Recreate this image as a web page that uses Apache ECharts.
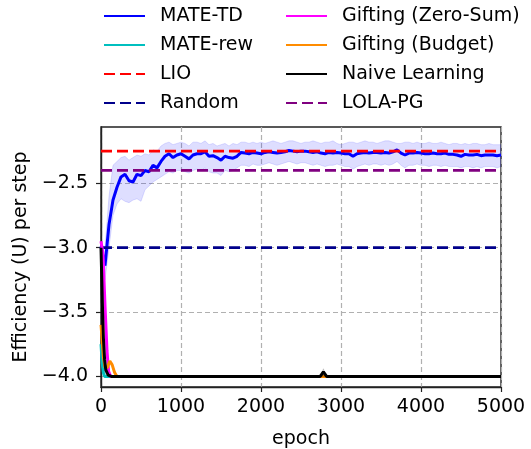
<!DOCTYPE html>
<html>
<head>
<meta charset="utf-8">
<script src="https://cdn.jsdelivr.net/npm/echarts@6/dist/echarts.min.js"></script>
<style>
  html, body { margin: 0; padding: 0; background: #fff; }
  #chart { width: 531px; height: 449px; }
</style>
</head>
<body>
<div id="chart"></div>
<script>
// Training epochs at which MATE-TD was evaluated
const epochs = [
  0, 50, 100, 150, 200, 250, 300, 350, 400, 450,
  500, 550, 600, 650, 700, 750, 800, 850, 900, 950,
  1000, 1050, 1100, 1150, 1200, 1250, 1300, 1350, 1400, 1450,
  1500, 1550, 1600, 1650, 1700, 1750, 1800, 1850, 1900, 1950,
  2000, 2050, 2100, 2150, 2200, 2250, 2300, 2350, 2400, 2450,
  2500, 2550, 2600, 2650, 2700, 2750, 2800, 2850, 2900, 2950,
  3000, 3050, 3100, 3150, 3200, 3250, 3300, 3350, 3400, 3450,
  3500, 3550, 3600, 3650, 3700, 3750, 3800, 3850, 3900, 3950,
  4000, 4050, 4100, 4150, 4200, 4250, 4300, 4350, 4400, 4450,
  4500, 4550, 4600, 4650, 4700, 4750, 4800, 4850, 4900, 4950,
  5000
];
// MATE-TD mean efficiency
const mateTdMean = [
  -2.99, -3.14, -2.82, -2.63, -2.53, -2.45, -2.43, -2.48, -2.49, -2.43,
  -2.44, -2.40, -2.41, -2.36, -2.38, -2.33, -2.29, -2.27, -2.30, -2.28,
  -2.27, -2.29, -2.31, -2.28, -2.27, -2.27, -2.255, -2.29, -2.285, -2.30,
  -2.32, -2.29, -2.30, -2.305, -2.29, -2.26, -2.265, -2.27, -2.26, -2.265,
  -2.27, -2.26, -2.255, -2.26, -2.265, -2.26, -2.255, -2.245, -2.25, -2.255,
  -2.25, -2.25, -2.255, -2.26, -2.255, -2.265, -2.27, -2.26, -2.265, -2.26,
  -2.265, -2.27, -2.27, -2.29, -2.27, -2.265, -2.26, -2.265, -2.26, -2.26,
  -2.265, -2.26, -2.265, -2.255, -2.24, -2.265, -2.28, -2.265, -2.265, -2.26,
  -2.265, -2.27, -2.27, -2.265, -2.27, -2.27, -2.265, -2.275, -2.275, -2.28,
  -2.29, -2.275, -2.28, -2.28, -2.275, -2.285, -2.28, -2.28, -2.28, -2.285,
  -2.28
];
// MATE-TD spread (upper / lower edge of the shaded region)
const mateTdUpper = [
  -2.97, -3.00, -2.60, -2.36, -2.33, -2.30, -2.29, -2.32, -2.30, -2.28,
  -2.29, -2.27, -2.28, -2.24, -2.25, -2.21, -2.19, -2.18, -2.20, -2.19,
  -2.18, -2.19, -2.21, -2.18, -2.18, -2.19, -2.17, -2.20, -2.19, -2.21,
  -2.20, -2.19, -2.21, -2.19, -2.20, -2.18, -2.18, -2.19, -2.18, -2.19,
  -2.18, -2.19, -2.18, -2.17, -2.18, -2.19, -2.18, -2.17, -2.17, -2.18,
  -2.19, -2.18, -2.18, -2.17, -2.18, -2.19, -2.18, -2.18, -2.17, -2.19,
  -2.20, -2.19, -2.18, -2.18, -2.19, -2.18, -2.17, -2.18, -2.18, -2.19,
  -2.18, -2.17, -2.17, -2.18, -2.19, -2.19, -2.18, -2.18, -2.19, -2.18,
  -2.19, -2.19, -2.18, -2.19, -2.19, -2.18, -2.19, -2.20, -2.19, -2.19,
  -2.20, -2.19, -2.20, -2.19, -2.19, -2.20, -2.20, -2.19, -2.20, -2.20,
  -2.20
];
const mateTdLower = [
  -3.01, -3.25, -3.00, -2.75, -2.66, -2.62, -2.64, -2.65, -2.63, -2.62,
  -2.64, -2.55, -2.52, -2.49, -2.47, -2.45, -2.43, -2.41, -2.42, -2.40,
  -2.40, -2.41, -2.42, -2.40, -2.39, -2.40, -2.38, -2.41, -2.42, -2.42,
  -2.44, -2.40, -2.41, -2.40, -2.38, -2.36, -2.36, -2.37, -2.35, -2.36,
  -2.36, -2.35, -2.34, -2.35, -2.36, -2.35, -2.34, -2.33, -2.34, -2.35,
  -2.34, -2.34, -2.35, -2.36, -2.35, -2.36, -2.37, -2.36, -2.36, -2.35,
  -2.36, -2.37, -2.37, -2.39, -2.37, -2.36, -2.35, -2.36, -2.35, -2.35,
  -2.36, -2.35, -2.36, -2.35, -2.33, -2.36, -2.38, -2.36, -2.36, -2.35,
  -2.36, -2.36, -2.37, -2.36, -2.36, -2.37, -2.36, -2.37, -2.37, -2.37,
  -2.38, -2.37, -2.37, -2.38, -2.37, -2.38, -2.37, -2.37, -2.37, -2.38,
  -2.37
];

// Baselines that collapse quickly to the lowest efficiency
const mateRewEpochs = [0, 15, 30, 45, 5000];
const mateRewValues = [-3.75, -3.90, -3.97, -4.00, -4.00];

const zeroSumEpochs = [0, 25, 50, 75, 95, 120, 5000];
const zeroSumValues = [-2.95, -3.05, -3.45, -3.80, -3.96, -4.00, -4.00];

const budgetEpochs = [0, 15, 30, 50, 80, 110, 140, 170, 200, 5000];
const budgetValues = [-3.60, -3.72, -3.85, -3.93, -3.93, -3.88, -3.91, -3.97, -4.00, -4.00];

const naiveEpochs = [0, 10, 20, 30, 45, 60, 90, 130, 2740, 2780, 2820, 5000];
const naiveValues = [-3.00, -3.25, -3.50, -3.70, -3.87, -3.95, -3.99, -4.00, -4.00, -3.965, -4.00, -4.00];
const naiveSpreadEpochs = [2740, 2780, 2820];
const naiveSpreadUpper = [-4.00, -3.94, -4.00];
const naiveSpreadLower = [-4.00, -4.00, -4.00];

// Constant reference levels
const lioLevel = -2.25;
const randomLevel = -3.0;
const lolaLevel = -2.4;
const epochRange = [0, 5000];

// Axis ticks
const xTicks = [0, 1000, 2000, 3000, 4000, 5000];
const yTicks = [-4.0, -3.5, -3.0, -2.5];

const FONT = 'DejaVu Sans';
const FS = 19;

const pairs = (xs, ys) => xs.map((x, i) => [x, ys[i]]);
const level = v => epochRange.map(x => [x, v]);

function lineSeries(name, data, color, dashed, z) {
  return {
    name, type: 'line', data, z,
    symbol: 'none', showSymbol: false, animation: false, clip: true,
    lineStyle: { color, width: dashed ? 2.8 : 3, type: dashed ? [11, 5] : 'solid', cap: 'butt' },
    itemStyle: { color },
    emphasis: { disabled: true }
  };
}

function spreadSeries(xs, lo, hi, fill, edge, z) {
  return {
    type: 'custom', z, silent: true, clip: true, animation: false,
    data: xs.map((x, i) => [x, lo[i], hi[i]]),
    encode: { x: 0, y: [1, 2] },
    renderItem(params, api) {
      if (params.dataIndex !== 0) return null;
      const pts = [];
      for (let i = 0; i < xs.length; i++) pts.push(api.coord([xs[i], hi[i]]));
      for (let i = xs.length - 1; i >= 0; i--) pts.push(api.coord([xs[i], lo[i]]));
      return { type: 'polygon', shape: { points: pts }, style: { fill, stroke: edge, lineWidth: 1 } };
    }
  };
}

const legendCommon = {
  orient: 'vertical', top: 6, padding: 0,
  itemWidth: 41, itemHeight: 14, itemGap: 9,
  selectedMode: false,
  itemStyle: { opacity: 0 },
  textStyle: { fontFamily: FONT, fontSize: FS, color: '#000', lineHeight: 20, padding: [0, 0, 0, 10] }
};

const chart = echarts.init(document.getElementById('chart'), null, { renderer: 'canvas' });
chart.setOption({
  animation: false,
  backgroundColor: '#fff',
  textStyle: { fontFamily: FONT },
  legend: [
    Object.assign({ left: 103, data: ['MATE-TD', 'MATE-rew', 'LIO', 'Random'] }, legendCommon),
    Object.assign({ left: 285, data: ['Gifting (Zero-Sum)', 'Gifting (Budget)', 'Naive Learning', 'LOLA-PG'] }, legendCommon)
  ],
  grid: {
    left: 101, right: 30, top: 127, bottom: 62,
    outerBoundsMode: 'none', containLabel: false,
    show: true, borderColor: '#222', borderWidth: 1.4, backgroundColor: 'transparent'
  },
  xAxis: {
    type: 'value', min: 0, max: 5000, interval: 1000,
    name: 'epoch', nameLocation: 'middle', nameGap: 43,
    nameTextStyle: { fontFamily: FONT, fontSize: FS, color: '#000' },
    axisLine: { show: true, lineStyle: { color: '#222', width: 1.4 } },
    axisTick: { show: true, inside: false, length: 5, lineStyle: { color: '#222', width: 1.2 } },
    axisLabel: { margin: 11, fontFamily: FONT, fontSize: FS, color: '#000', formatter: v => String(v) },
    splitLine: { show: true, lineStyle: { color: '#b0b0b0', width: 1.2, type: [5, 3] } }
  },
  yAxis: {
    type: 'value', min: -4.082, max: -2.0625,
    name: 'Efficiency (U) per step', nameLocation: 'middle', nameGap: 69,
    nameTextStyle: { fontFamily: FONT, fontSize: FS, color: '#000' },
    axisLine: { show: true, lineStyle: { color: '#222', width: 1.4 } },
    axisTick: { show: true, inside: false, length: 5, customValues: yTicks, lineStyle: { color: '#222', width: 1.2 } },
    axisLabel: {
      margin: 13, fontFamily: FONT, fontSize: FS, color: '#000', customValues: yTicks,
      formatter: v => (v < 0 ? '\u2212' : '') + Math.abs(v).toFixed(1)
    },
    splitLine: { show: true, lineStyle: { color: '#b0b0b0', width: 1.2, type: [5, 3] } }
  },
  series: [
    spreadSeries(epochs, mateTdLower, mateTdUpper, 'rgba(0,0,255,0.13)', 'rgba(0,0,255,0.12)', 1),
    lineSeries('MATE-TD', pairs(epochs, mateTdMean), '#0000ff', false, 2),
    lineSeries('MATE-rew', pairs(mateRewEpochs, mateRewValues), '#00bfbf', false, 3),
    lineSeries('LIO', level(lioLevel), '#ff0000', true, 4),
    lineSeries('Random', level(randomLevel), '#00008b', true, 5),
    lineSeries('Gifting (Zero-Sum)', pairs(zeroSumEpochs, zeroSumValues), '#ff00ff', false, 6),
    lineSeries('Gifting (Budget)', pairs(budgetEpochs, budgetValues), '#ff8c00', false, 7),
    spreadSeries(naiveSpreadEpochs, naiveSpreadLower, naiveSpreadUpper, 'rgba(0,0,0,0.18)', 'rgba(0,0,0,0.12)', 8),
    lineSeries('Naive Learning', pairs(naiveEpochs, naiveValues), '#000000', false, 9),
    lineSeries('LOLA-PG', level(lolaLevel), '#800080', true, 10)
  ]
});
</script>
</body>
</html>
